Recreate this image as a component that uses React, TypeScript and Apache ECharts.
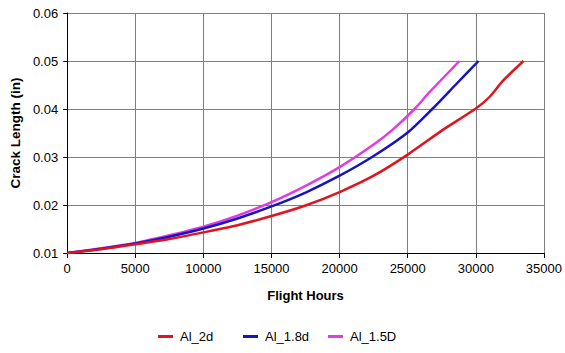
import React, { useEffect, useRef } from "react";
import * as echarts from "echarts";

// Flight hours at which each crack length was sampled, per configuration
const hours2d = [0, 2500, 5000, 7500, 10000, 12500, 15000, 17500, 20000, 22500, 25000, 27500, 30000, 31000, 32000, 33500];
const crack2d = [0.01, 0.0108, 0.0118, 0.0129, 0.0143, 0.0158, 0.0177, 0.0199, 0.0227, 0.0261, 0.0305, 0.0355, 0.0401, 0.0425, 0.0459, 0.05];

const hours18d = [0, 2500, 5000, 7500, 10000, 12500, 15000, 17500, 20000, 22500, 25000, 26800, 28500, 30200];
const crack18d = [0.01, 0.0109, 0.012, 0.0134, 0.0151, 0.0172, 0.0197, 0.0226, 0.0261, 0.0302, 0.0351, 0.04, 0.045, 0.05];

const hours15D = [0, 2500, 5000, 7500, 10000, 12500, 15000, 17500, 20000, 22500, 23900, 25500, 26600, 28800];
const crack15D = [0.01, 0.011, 0.0121, 0.0137, 0.0155, 0.0178, 0.0206, 0.024, 0.0279, 0.0326, 0.0357, 0.04, 0.0435, 0.05];

const seriesNames = ["Al_2d", "Al_1.8d", "Al_1.5D"];
const seriesColors = ["#e0141e", "#1414c4", "#e03ce0"];

const FONT = "'Liberation Sans', Arial, sans-serif";

const pairs = (xs: number[], ys: number[]) => xs.map((x, i) => [x, ys[i]]);

export default function App() {
  const ref = useRef<HTMLDivElement>(null);

  useEffect(() => {
    if (!ref.current) return;
    const chart = echarts.init(ref.current, null, { renderer: "svg" });

    const data = [pairs(hours2d, crack2d), pairs(hours18d, crack18d), pairs(hours15D, crack15D)];
    const legendLefts = [158, 243, 328];

    chart.setOption({
      animation: false,
      backgroundColor: "#ffffff",
      textStyle: { fontFamily: FONT },
      grid: { left: 63, right: 18, top: 13, bottom: 100, containLabel: false },
      legend: seriesNames.map((name, i) => ({
        data: [name],
        left: legendLefts[i],
        top: 330,
        padding: 0,
        icon: "rect",
        itemWidth: 15,
        itemHeight: 3,
        itemGap: 9,
        textStyle: { fontFamily: FONT, fontSize: 13, color: "#000", padding: [0, 0, 0, 2] },
      })),
      xAxis: {
        type: "value",
        min: 0,
        max: 35000,
        interval: 5000,
        name: "Flight Hours",
        nameLocation: "middle",
        nameGap: 36,
        nameTextStyle: { fontFamily: FONT, fontSize: 13, fontWeight: "bold", color: "#000" },
        axisLine: { show: true, onZero: false, lineStyle: { color: "#000", width: 1 } },
        axisTick: { show: true, length: 5, lineStyle: { color: "#000" } },
        axisLabel: {
          fontFamily: FONT,
          fontSize: 13,
          color: "#000",
          margin: 9,
          formatter: (v: number) => String(v),
        },
        splitLine: { show: true, lineStyle: { color: "#808080", width: 1 } },
      },
      yAxis: {
        type: "value",
        min: 0.01,
        max: 0.06,
        interval: 0.01,
        name: "Crack Length (in)",
        nameLocation: "middle",
        nameGap: 42,
        nameTextStyle: { fontFamily: FONT, fontSize: 13.5, fontWeight: "bold", color: "#000" },
        axisLine: { show: true, onZero: false, lineStyle: { color: "#000", width: 1 } },
        axisTick: { show: true, length: 4, lineStyle: { color: "#000" } },
        axisLabel: {
          fontFamily: FONT,
          fontSize: 13,
          color: "#000",
          margin: 9,
          formatter: (v: number) => v.toFixed(2),
        },
        splitLine: { show: true, lineStyle: { color: "#808080", width: 1 } },
      },
      series: seriesNames.map((name, i) => ({
        name,
        type: "line",
        data: data[i],
        smooth: 0.25,
        showSymbol: false,
        symbol: "none",
        color: seriesColors[i],
        lineStyle: { color: seriesColors[i], width: 2.5 },
        z: 3 - i,
      })),
    });

    return () => chart.dispose();
  }, []);

  return (
    <div
      ref={ref}
      style={{ position: "fixed", left: 0, top: 0, width: 565, height: 353, background: "#fff" }}
    />
  );
}
